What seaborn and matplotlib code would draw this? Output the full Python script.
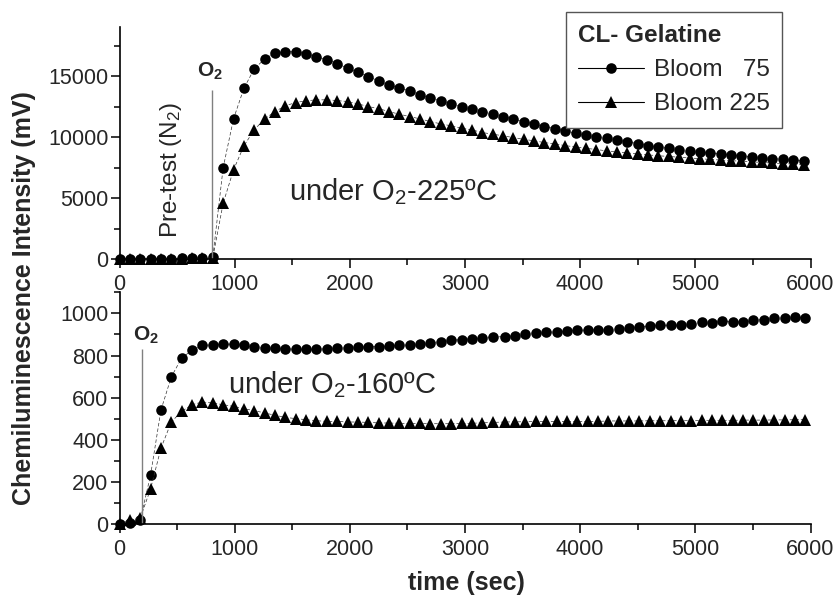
import numpy as np
import pandas as pd
import matplotlib
matplotlib.use('Agg')
import matplotlib.pyplot as plt
import seaborn as sns
from matplotlib.lines import Line2D
from matplotlib.ticker import MultipleLocator

# sampling times (sec), one point every ~90 s
time_225 = [0, 90, 180, 270, 360, 450, 540, 630, 720, 810, 900, 990, 1080, 1170, 1260,
            1350, 1440, 1530, 1620, 1710, 1800, 1890, 1980, 2070, 2160, 2250, 2340, 2430,
            2520, 2610, 2700, 2790, 2880, 2970, 3060, 3150, 3240, 3330, 3420, 3510, 3600,
            3690, 3780, 3870, 3960, 4050, 4140, 4230, 4320, 4410, 4500, 4590, 4680, 4770,
            4860, 4950, 5040, 5130, 5220, 5310, 5400, 5490, 5580, 5670, 5760, 5850, 5940]
time_160 = [0, 90, 180, 270, 360, 450, 540, 630, 720, 810, 900, 990, 1080, 1170, 1260,
            1350, 1440, 1530, 1620, 1710, 1800, 1890, 1980, 2070, 2160, 2250, 2340, 2430,
            2520, 2610, 2700, 2790, 2880, 2970, 3060, 3150, 3240, 3345, 3435, 3525, 3615,
            3705, 3795, 3885, 3975, 4065, 4155, 4245, 4335, 4425, 4515, 4605, 4695, 4785,
            4875, 4965, 5055, 5145, 5235, 5325, 5415, 5505, 5595, 5685, 5775, 5865, 5955]

# CL intensity (mV) under O2 at 225 C
b75_225 = [0, 30, 40, 40, 50, 60, 70, 80, 100, 150,
           7500, 11500, 14000, 15600, 16400, 16900, 17000, 17000, 16850, 16600, 16350,
           16030, 15650, 15320, 14970, 14600,
           14290, 14020, 13800, 13470, 13200, 12980, 12730, 12510, 12300, 12100, 11910,
           11690, 11500, 11280, 11090, 10870, 10710, 10520, 10330, 10190, 10050, 9920,
           9780, 9620, 9480, 9310,
           9200, 9095, 8990, 8890, 8795, 8705, 8620, 8540, 8465, 8390, 8320, 8250, 8185,
           8120, 8060]
b225_225 = [0, 20, 30, 30, 40, 50, 60, 70, 80, 120,
            4590, 7320, 9290, 10600, 11500, 12100, 12570, 12840, 12980, 13060, 13060,
            13000, 12920, 12730, 12510, 12340,
            12100, 11880, 11690, 11500, 11280, 11090, 10930, 10740, 10600, 10380, 10250,
            10110, 9970, 9830, 9700, 9560, 9450, 9310, 9200, 9090, 8990, 8880, 8800,
            8710, 8630, 8550,
            8480, 8420, 8360, 8300, 8240, 8180, 8130, 8080, 8030, 7980, 7930, 7880, 7840,
            7800, 7760]

# CL intensity (mV) under O2 at 160 C
b75_160 = [0, 8, 20, 234, 542, 699, 789, 825, 848, 851, 854, 854, 848, 841, 837, 834,
           833, 829, 829, 829, 833, 836, 837, 840, 841, 843,
           845, 848, 851, 856, 861, 866, 872, 876, 880, 884, 889,
           889, 895, 900, 905, 911, 912, 917, 920, 921, 922, 923, 926, 932, 937,
           940, 943, 944, 943, 951, 959, 956, 963, 959, 959, 967, 971, 979, 979, 984, 979]
b225_160 = [0, 20, 29, 168, 361, 485, 536, 567, 580, 575, 567, 559, 548, 539, 528, 517,
            507, 501, 496, 491, 488, 488, 485, 485, 483, 481,
            480, 479, 478, 478, 477, 477, 477, 478, 479, 481, 483,
            485, 486, 486, 488, 488, 488, 488, 488, 488, 488, 490, 490, 490, 490,
            491, 491, 491, 492, 492, 493, 493, 493, 493, 494, 494, 494, 495, 495, 496, 496]

labels = ['Bloom   75', 'Bloom 225']
o2_time_225 = 806
o2_time_160 = 193

sns.set_theme(style='ticks')
plt.rcParams['font.family'] = ['Liberation Sans', 'DejaVu Sans']
plt.rcParams['mathtext.default'] = 'regular'

fig = plt.figure(figsize=(8.34, 5.96), dpi=100)
W, H = 834, 596
ax_top = fig.add_axes([119.5 / W, 1 - 259.3 / H, 691 / W, 232 / H])
ax_bot = fig.add_axes([119.5 / W, 1 - 524.3 / H, 691 / W, 232 / H])


def draw(ax, t, s75, s225):
    df = pd.DataFrame({'time': t * 2, 'cl': s75 + s225,
                       'sample': [labels[0]] * len(t) + [labels[1]] * len(t)})
    for lab, mk, ms in [(labels[0], 'o', 7.6), (labels[1], '^', 8.6)]:
        sns.lineplot(data=df[df['sample'] == lab], x='time', y='cl', ax=ax,
                     color='#333333', lw=0.5, linestyle=(0, (5, 3)), marker=mk,
                     markersize=ms, markerfacecolor='black', markeredgewidth=0,
                     errorbar=None, legend=False, clip_on=False)
    ax.set_xlim(0, 6000)
    ax.xaxis.set_major_locator(MultipleLocator(1000))
    ax.xaxis.set_minor_locator(MultipleLocator(500))
    ax.set_xlabel('')
    ax.set_ylabel('')
    for side in ['top', 'right']:
        ax.spines[side].set_visible(False)
    for side in ['left', 'bottom']:
        ax.spines[side].set_linewidth(1.2)
        ax.spines[side].set_color('black')
    ax.tick_params(which='major', length=6.5, width=1.1, direction='out',
                   labelsize=15.5, color='black')
    ax.tick_params(which='minor', length=4, width=1.1, direction='out', color='black')
    ax.tick_params(axis='x', pad=4)
    ax.tick_params(axis='y', pad=1.5)


draw(ax_top, time_225, b75_225, b225_225)
ax_top.set_ylim(0, 19000)
ax_top.yaxis.set_major_locator(MultipleLocator(5000))
ax_top.yaxis.set_minor_locator(MultipleLocator(2500))
ax_top.vlines(o2_time_225, 0, 13900, color='gray', lw=1)
ax_top.text(670, 14970, 'O$_2$', fontsize=15, fontweight='bold', ha='left', va='baseline')
ax_top.text(443, 7280, 'Pre-test (N$_2$)', fontsize=17.5, rotation=90, ha='center', va='center')
ax_top.text(1470, 4860, 'under O$_2$-225ºC', fontsize=21, ha='left', va='baseline')

draw(ax_bot, time_160, b75_160, b225_160)
ax_bot.set_ylim(0, 1100)
ax_bot.yaxis.set_major_locator(MultipleLocator(200))
ax_bot.yaxis.set_minor_locator(MultipleLocator(100))
ax_bot.vlines(o2_time_160, 0, 830, color='gray', lw=1)
ax_bot.text(120, 872, 'O$_2$', fontsize=15, fontweight='bold', ha='left', va='baseline')
ax_bot.text(943, 623, 'under O$_2$-160ºC', fontsize=21, ha='left', va='baseline')

fig.text(466 / W, 1 - 583 / H, 'time (sec)', fontsize=18, fontweight='bold',
         ha='center', va='center')
fig.text(24 / W, 1 - 298 / H, 'Chemiluminescence Intensity (mV)', fontsize=18,
         fontweight='bold', rotation=90, ha='center', va='center')

handles = [Line2D([], [], color='black', lw=0.8, marker='o', markersize=7.6, markeredgewidth=0),
           Line2D([], [], color='black', lw=0.8, marker='^', markersize=8.6, markeredgewidth=0)]
leg = fig.legend(handles, labels, loc='upper left', bbox_to_anchor=(566 / W, 1 - 12 / H),
                 borderaxespad=0, fontsize=17.5, title='CL- Gelatine',
                 title_fontproperties={'weight': 'bold', 'size': 17.5}, alignment='left',
                 frameon=True, fancybox=False, framealpha=1, edgecolor='#555555',
                 handlelength=2.7, handletextpad=0.4, labelspacing=0.5, borderpad=0.5)
leg.get_frame().set_linewidth(1)

fig.savefig('out.png', dpi=100)
